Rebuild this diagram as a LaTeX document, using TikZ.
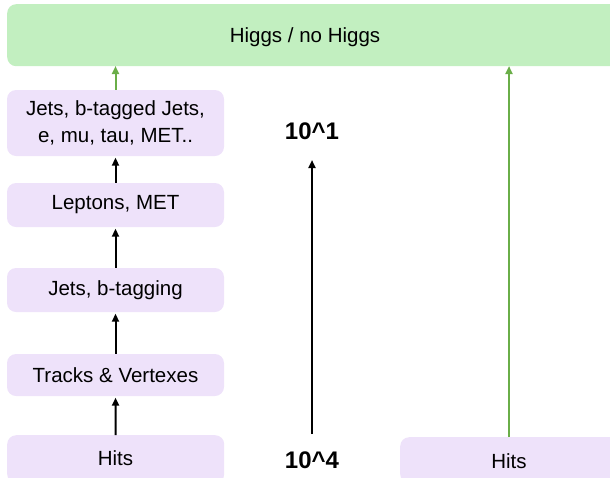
\documentclass[tikz,border=0pt]{standalone}
\usepackage{fontspec}
\setmainfont{Liberation Sans}
\usetikzlibrary{arrows.meta}
\definecolor{boxpurple}{HTML}{EEE2FA}
\definecolor{boxgreen}{HTML}{C2EFC0}
\definecolor{arrgreen}{HTML}{6AAE48}
\begin{document}
\begin{tikzpicture}[x=1pt,y=-1pt,
  pbox/.style={fill=boxpurple,rounded corners=9pt,inner sep=0pt,align=center,
    font=\fontsize{20.5}{27}\selectfont},
  gbox/.style={fill=boxgreen,rounded corners=9pt,inner sep=0pt,align=center,
    font=\fontsize{20.5}{27}\selectfont},
  lab/.style={font=\fontsize{20.5}{27}\selectfont,inner sep=0pt},
  big/.style={font=\fontsize{24}{28}\selectfont\bfseries,inner sep=0pt},
  blk/.style={draw=black,line width=2pt,-{Triangle[length=8pt,width=7pt]}},
  grn/.style={draw=arrgreen,line width=2pt,-{Triangle[length=8pt,width=7pt]}}]
\useasboundingbox (0,0) rectangle (610,477);
\begin{scope}
\clip (0,0) rectangle (610,477);
\node[gbox,minimum width=620pt,minimum height=62pt,anchor=north west] (top) at (7,4) {};
\node[pbox,minimum width=220pt,minimum height=46pt,anchor=north west] (rhits) at (400,437) {};
\node[pbox,minimum width=217pt,minimum height=48pt,anchor=north west] (hits) at (7,435) {};
\end{scope}
\node[lab] (toplab) at (305,37) {Higgs / no Higgs};
\node[lab] (rhitslab) at (509,461) {Hits};
\node[lab] (hitslab) at (115.5,458) {Hits};
\node[pbox,minimum width=217pt,minimum height=66pt] (jets) at (115.5,123) {Jets, b-tagged Jets,\\e, mu, tau, MET..};
\node[pbox,minimum width=217pt,minimum height=44pt] (lep) at (115.5,205) {Leptons, MET};
\node[pbox,minimum width=217pt,minimum height=44pt] (btag) at (115.5,290) {Jets, b-tagging};
\node[pbox,minimum width=217pt,minimum height=42pt] (trk) at (115.5,375) {Tracks \& Vertexes};
\node[big] (e1) at (312,131) {10\textasciicircum 1};
\node[big] (e4) at (312,460) {10\textasciicircum 4};
\coordinate (mbot) at (312,434);
\coordinate (mtop) at (312,160);
\coordinate (rtop) at (509,66);
\coordinate (ltop) at (115.5,66);
\draw[blk] (hits.north) -- ([yshift=-1.5pt]trk.south);
\draw[blk] (trk.north) -- ([yshift=-1.5pt]btag.south);
\draw[blk] (btag.north) -- ([yshift=-1.5pt]lep.south);
\draw[blk] (lep.north) -- ([yshift=-1.5pt]jets.south);
\draw[grn] (jets.north) -- (ltop);
\draw[blk] (mbot) -- (mtop);
\draw[grn] (rhits.north -| rtop) -- (rtop);
\end{tikzpicture}
\end{document}
